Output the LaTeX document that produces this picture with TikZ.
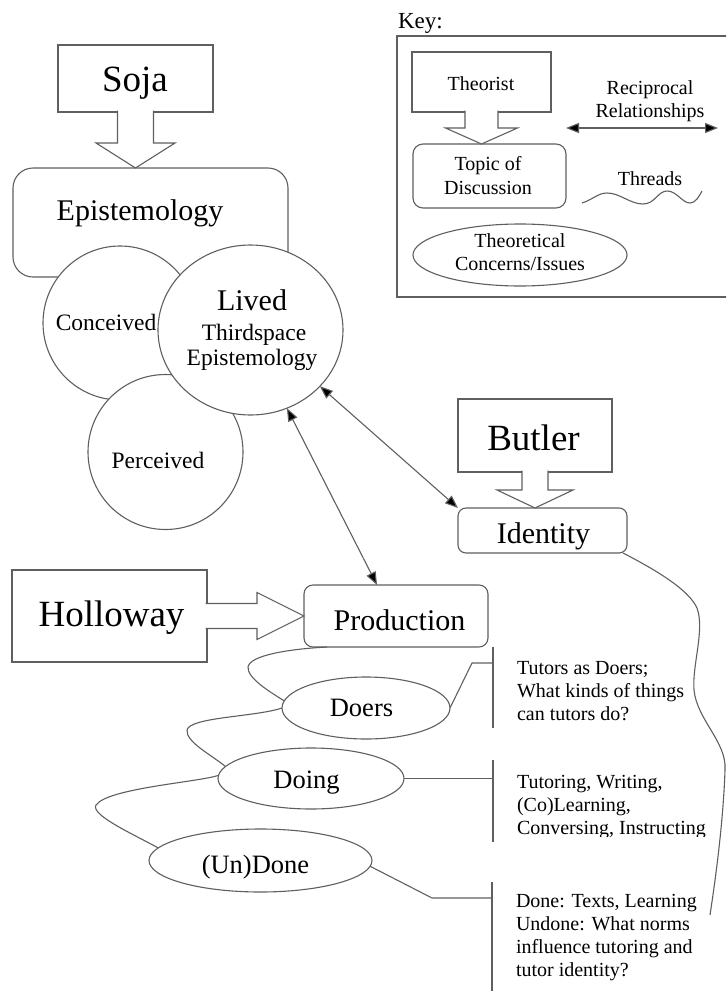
\documentclass[tikz,border=0pt]{standalone}
\usepackage{fontspec}
\setmainfont{Liberation Serif}
\usetikzlibrary{arrows.meta,shapes.geometric,calc}
\definecolor{lc}{RGB}{95,95,95}
\newcommand\fsz[1]{\fontsize{#1}{#1}\selectfont}
\newcommand\fszl[2]{\fontsize{#1}{#2}\selectfont}
% vertical block arrow: from, tip, shaft half width, head half width, head length
\newcommand\vblk[5]{\draw[blk] ($(#1)+(-#3,-1.5)$) -- ($(#2)+(-#3,-#5)$) -- ($(#2)+(-#4,-#5)$) -- (#2) -- ($(#2)+(#4,-#5)$) -- ($(#2)+(#3,-#5)$) -- ($(#1)+(#3,-1.5)$);}
% horizontal block arrow
\newcommand\hblk[5]{\draw[blk] ($(#1)+(-1.5,-#3)$) -- ($(#2)+(-#5,-#3)$) -- ($(#2)+(-#5,-#4)$) -- (#2) -- ($(#2)+(-#5,#4)$) -- ($(#2)+(-#5,#3)$) -- ($(#1)+(-1.5,#3)$);}
\begin{document}
\begin{tikzpicture}[x=1pt,y=-1pt,
  ln/.style={draw=lc, line width=1.1pt},
  shp/.style={ln, fill=white, inner sep=0pt, outer sep=0pt},
  sqbox/.style={shp, rectangle},
  rbox/.style={shp, rectangle, rounded corners=#1},
  rbox/.default=8pt,
  circ/.style={shp, circle},
  ell/.style={shp, ellipse},
  txt/.style={inner sep=0pt, outer sep=0pt, anchor=base, text=black},
  blk/.style={ln, fill=white, line join=miter},
  thr/.style={ln},
  rel/.style={ln, {Triangle[length=13pt,width=10pt,fill=black]}-{Triangle[length=13pt,width=10pt,fill=black]}},
]
\clip (0,0) rectangle (726,991);

% ---------- Key ----------
\node[txt, anchor=base west] (keyT) at (398,28) {\fsz{23}Key:};
\node[sqbox, anchor=north west, minimum width=343pt, minimum height=261pt] (keybox) at (397,36) {};
\node[sqbox, minimum width=139pt, minimum height=60pt] (theo) at (481.5,82) {};
\node[rbox=10pt, minimum width=153pt, minimum height=64pt] (topic) at (489.5,176) {};
\vblk{theo.south}{theo.south |- topic.north}{16.5}{36}{16}
\node[ell, minimum width=214pt, minimum height=62pt] (concern) at (520,255) {};
\node[txt] (theoT) at (481,90) {\fsz{20}Theorist};
\node[txt] (topicT1) at (488,170) {\fsz{20}Topic of};
\node[txt] (topicT2) at (488,194) {\fsz{20}Discussion};
\node[txt] (recT1) at (650,94) {\fsz{20}Reciprocal};
\node[txt] (recT2) at (650,117) {\fsz{20}Relationships};
\coordinate (ka1) at (566,128);
\coordinate (ka2) at (718,128);
\draw[rel] (ka1) -- (ka2);
\node[txt] (thrT) at (650,185) {\fsz{20}Threads};
\draw[thr] (582,203) .. controls (592,200) and (598,193) .. (607,193)
  .. controls (620,193) and (630,204) .. (643,204)
  .. controls (655,204) and (658,191) .. (667,191)
  .. controls (677,191) and (682,203) .. (690,203)
  .. controls (696,203) and (699,196) .. (702,191);
\node[txt] (concernT1) at (520,247) {\fsz{20}Theoretical};
\node[txt] (concernT2) at (520,270) {\fsz{20}Concerns/Issues};

% ---------- Soja ----------
\node[sqbox, minimum width=155pt, minimum height=67pt] (soja) at (135.5,78.5) {};
\node[rbox=20pt, minimum width=275pt, minimum height=109pt] (epis) at (150.5,222.5) {};
\vblk{soja.south}{soja.south |- epis.north}{18}{39.5}{25}
\node[circ, minimum size=154pt] (conc) at (120,323) {};
\node[circ, minimum size=155pt] (perc) at (165.5,452) {};
\node[ell, minimum width=185pt, minimum height=170pt] (lived) at (250.5,330) {};
\node[txt] (sojaT) at (135,91) {\fsz{37}Soja};
\node[txt] (episT) at (140,220) {\fsz{30}Epistemology};
\node[txt] (concT) at (106,330) {\fsz{23.5}Conceived};
\node[txt] (percT) at (158,468) {\fsz{23.5}Perceived};
\node[txt] (livedT1) at (252,310) {\fsz{30}Lived};
\node[txt] (livedT2) at (254,340) {\fsz{23.5}Thirdspace};
\node[txt] (livedT3) at (252,365) {\fsz{23.5}Epistemology};

% ---------- Butler ----------
\node[sqbox, minimum width=154pt, minimum height=73pt] (butler) at (535,435.5) {};
\node[rbox=8pt, minimum width=169pt, minimum height=45pt] (identity) at (542.5,530.5) {};
\vblk{butler.south}{butler.south |- identity.north}{13}{38}{18}
\node[txt] (butlerT) at (533.5,450) {\fsz{37}Butler};
\node[txt] (identT) at (543.5,543) {\fsz{30}Identity};

% ---------- Holloway ----------
\node[sqbox, minimum width=195pt, minimum height=92pt] (holl) at (109.5,616) {};
\node[rbox=9pt, minimum width=184pt, minimum height=62pt] (prod) at (396,616) {};
\hblk{holl.east}{prod.west |- holl.east}{12.5}{23.5}{47}
\node[txt] (hollT) at (111.5,626) {\fsz{37}Holloway};
\node[txt] (prodT) at (399.5,630) {\fsz{30}Production};

% reciprocal relationships
\draw[rel] (lived.-39) -- (identity.north west);
\draw[rel] (lived.-65) -- ($(prod.north)+(-19,0)$);

% ---------- concerns ----------
\node[ell, minimum width=168pt, minimum height=62pt] (doers) at (366,708) {};
\node[ell, minimum width=186pt, minimum height=61pt] (doing) at (311,778.5) {};
\node[ell, minimum width=223pt, minimum height=63pt] (undone) at (260.5,860.5) {};
\node[txt] (doersT) at (361.5,716) {\fsz{26.5}Doers};
\node[txt] (doingT) at (306.5,788) {\fsz{26.5}Doing};
\node[txt] (undoneT) at (255.5,873) {\fsz{26.5}(Un)Done};

% threads
\draw[thr] ($(prod.south west)+(23,0)$) .. controls (290,649) and (250,655) .. (248,667)
  .. controls (247,678) and (270,692) .. (doers.175);
\draw[thr] (doers.west) .. controls (255,717) and (190,717) .. (187,730)
  .. controls (186,742) and (210,754) .. (doing.172);
\draw[thr] (doing.178) .. controls (200,782) and (108,788) .. (96,805)
  .. controls (90,815) and (135,835) .. (undone.173);
\coordinate (thrEnd) at (710,915);
\draw[thr] ($(identity.south east)+(-4,0)$) .. controls (650,567) and (688,588) .. (697,608)
  .. controls (705,630) and (692,665) .. (694,690)
  .. controls (697,720) and (727,742) .. (725,770)
  .. controls (723,830) and (713,895) .. (thrEnd);

% brackets and notes
\coordinate (b1t) at (493,647); \coordinate (b1b) at (493,728);
\coordinate (b2t) at (493,760); \coordinate (b2b) at (493,842);
\coordinate (b3t) at (492,882); \coordinate (b3b) at (492,995);
\coordinate (k1) at (472,663); \coordinate (j1) at (493,663);
\coordinate (k3) at (432,898); \coordinate (j3) at (492,898);
\draw[ln] (b1t) -- (b1b);
\draw[ln] (b2t) -- (b2b);
\draw[ln] (b3t) -- (b3b);
\draw[ln] (doers.east) -- (k1) -- (j1);
\draw[ln] (doing.east) -- (doing.east -| b2t);
\draw[ln] (undone.-3) -- (k3) -- (j3);

\node[txt, anchor=base west] (note1) at (517,674) {\fszl{20}{23}\begin{tabular}[t]{@{}l@{}}Tutors as Doers;\\What kinds of things\\can tutors do?\end{tabular}};
\begin{scope}
\clip (500,740) rectangle (726,836);
\node[txt, anchor=base west] (note2) at (517,788) {\fszl{20}{23}\begin{tabular}[t]{@{}l@{}}Tutoring, Writing,\\(Co)Learning,\\Conversing, Instructing\end{tabular}};
\end{scope}
\node[txt, anchor=base west] (note3) at (516,907) {\fszl{20}{23.3}\begin{tabular}[t]{@{}l@{}}Done: Texts, Learning\\Undone: What norms\\influence tutoring and\\tutor identity?\end{tabular}};
\end{tikzpicture}
\end{document}
